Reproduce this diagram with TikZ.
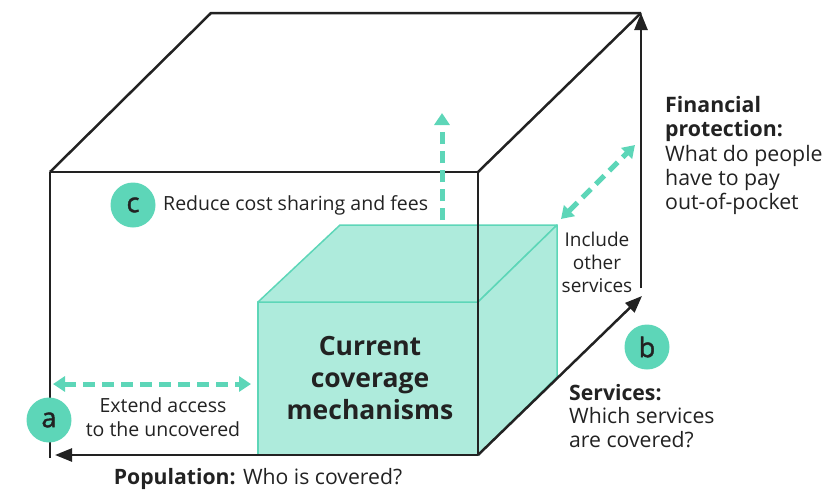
\documentclass[tikz,border=0pt]{standalone}
\usepackage{fontspec}
\setmainfont{Open Sans}
\newfontfamily\badgefont[FakeBold=1.6]{Open Sans}
\usetikzlibrary{arrows.meta}
\definecolor{tealdark}{HTML}{5DD6B8}
\definecolor{tealfill}{HTML}{AEEBDC}
\definecolor{ink}{HTML}{222222}
\tikzset{
  edge/.style={draw=ink, line width=2.5pt, line join=round},
  axis/.style={edge, -{Triangle[length=17pt,width=13pt]}},
  tealdash/.style={draw=tealdark, line width=5pt, dash pattern=on 12pt off 7pt},
  tealtip/.style={{Triangle[length=12pt,width=15pt]}-{Triangle[length=12pt,width=15pt]}},
  tealtipend/.style={-{Triangle[length=12pt,width=15pt]}},
  badge/.style={circle, fill=tealdark, minimum size=45pt, inner sep=0pt, font=\badgefont\fontsize{27}{27}\selectfont, text=ink},
  lbl/.style={font=\fontsize{19.5}{23.5}\selectfont, text=ink, inner sep=0pt},
  face/.style={fill=tealfill, draw=tealdark, line width=1.5pt, line join=round},
}
\begin{document}
\begin{tikzpicture}[x=1pt,y=-1pt]
\useasboundingbox (0,0) rectangle (830,491);
% outer cube corners
\coordinate (FTL) at (50,172);
\coordinate (FTR) at (478,172);
\coordinate (FBR) at (478,455);
\coordinate (FBL) at (50,458);
\coordinate (BTL) at (211,13);
\coordinate (BTR) at (641,13);
\coordinate (PopEnd) at (55,455);
\coordinate (SrvEnd) at (642,296);
\coordinate (FinStart) at (641,288);
% inner cube corners
\coordinate (iFTL) at (258,302);
\coordinate (iFTR) at (478,302);
\coordinate (iFBR) at (478,455);
\coordinate (iFBL) at (258,455);
\coordinate (iBTL) at (340,225);
\coordinate (iBTR) at (557,225);
\coordinate (iBBR) at (557,377);
% inner cube
\path[face] (iFTL) -- (iFTR) -- (iFBR) -- (iFBL) -- cycle;
\path[face] (iFTL) -- (iBTL) -- (iBTR) -- (iFTR) -- cycle;
\path[face] (iFTR) -- (iBTR) -- (iBBR) -- (iFBR) -- cycle;
% outer cube lines
\draw[edge] (FTL) -- (BTL) -- (BTR);
\draw[edge] (FTR) -- (BTR);
\draw[edge] (FTL) -- (FTR) -- (FBR);
\draw[edge] (FTL) -- (FBL);
\draw[axis] (FBR) -- (PopEnd);
\draw[axis] (FBR) -- (SrvEnd);
\draw[axis] (FinStart) -- (BTR);
% teal dashed arrows
\coordinate (hA) at (53,384);
\coordinate (hB) at (251,384);
\coordinate (vA) at (442,220);
\coordinate (vB) at (442,113);
\coordinate (dA) at (561,219);
\coordinate (dB) at (635,145);
\draw[tealdash, tealtip] (hA) -- (hB);
\draw[tealdash, tealtipend] (vA) -- (vB);
\draw[tealdash, tealtip] (dA) -- (dB);
% badges
\node[badge] (c) at (133,205) {c};
\node[badge] (a) at (49,420) {a};
\node[badge] (b) at (647,347) {b};
% labels
\node[lbl, anchor=west] (reduce) at (163,205) {Reduce cost sharing and fees};
\node[lbl, anchor=north west, align=left, font=\fontsize{21.3}{24.4}\selectfont] (fin) at (665,96) {\textbf{Financial}\\\textbf{protection:}\\What do people\\have to pay\\out-of-pocket};
\node[lbl, anchor=north, align=center, font=\fontsize{19}{23}\selectfont] (incl) at (597,232) {Include\\other\\services};
\node[lbl, align=center, font=\fontsize{26.5}{32}\selectfont\bfseries] (cur) at (370,378) {Current\\coverage\\mechanisms};
\node[lbl, align=center, font=\fontsize{19.5}{24}\selectfont] (ext) at (163,417) {Extend access\\to the uncovered};
\node[lbl, font=\fontsize{21.2}{24}\selectfont] (pop) at (258,479) {\textbf{Population:} Who is covered?};
\node[lbl, anchor=west, align=left, font=\fontsize{21.2}{23.8}\selectfont] (srv) at (569,416) {\textbf{Services:}\\Which services\\are covered?};
\end{tikzpicture}
\end{document}
